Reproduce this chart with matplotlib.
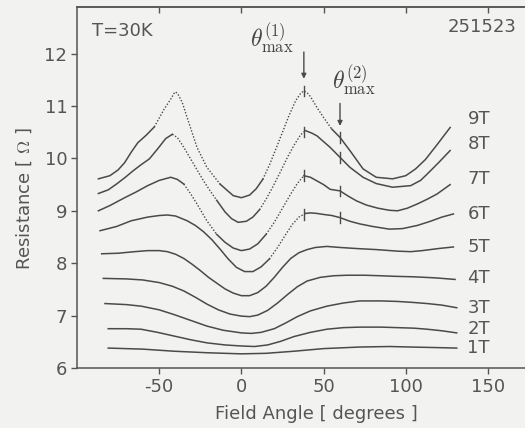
import numpy as np
import matplotlib
matplotlib.use("Agg")
import matplotlib.pyplot as plt

plt.rcParams['font.family'] = ['DejaVu Sans']
plt.rcParams['mathtext.fontset'] = 'cm'
plt.rcParams['axes.unicode_minus'] = False

# Angular magnetoresistance at T=30K, one curve per field
theta9 = [-87, -80, -75, -71, -67, -63, -58, -53, -47, -43, -41, -40, -38.5, -36, -33, -31, -27, -21, -13, -5, 0, 5, 9, 13, 17, 21, 25, 29, 33, 36, 38, 40, 42, 46, 50, 55, 60, 66, 74, 82, 92, 100, 106, 112, 119, 127]
R9 = [9.61, 9.67, 9.78, 9.92, 10.12, 10.30, 10.44, 10.60, 10.94, 11.13, 11.24, 11.27, 11.22, 11.07, 10.78, 10.59, 10.21, 9.83, 9.51, 9.29, 9.25, 9.30, 9.42, 9.60, 9.87, 10.18, 10.50, 10.82, 11.10, 11.24, 11.29, 11.25, 11.18, 10.97, 10.78, 10.56, 10.40, 10.15, 9.80, 9.64, 9.61, 9.67, 9.80, 9.98, 10.26, 10.59]

theta8 = [-87, -81, -76, -71, -66, -61, -56, -51, -46, -42, -39, -35, -32, -29, -26, -23, -19, -15, -10, -6, -2, 3, 7, 11, 15, 19, 24, 28, 32, 36, 39, 43, 46, 50, 54, 60, 66, 74, 82, 92, 103, 109, 113, 120, 127]
R8 = [9.33, 9.40, 9.51, 9.63, 9.76, 9.88, 9.99, 10.18, 10.38, 10.46, 10.40, 10.21, 10.05, 9.89, 9.73, 9.57, 9.38, 9.20, 8.98, 8.85, 8.78, 8.80, 8.88, 9.02, 9.22, 9.45, 9.76, 10.02, 10.25, 10.45, 10.53, 10.48, 10.43, 10.32, 10.21, 10.02, 9.83, 9.64, 9.52, 9.45, 9.48, 9.58, 9.70, 9.92, 10.15]

theta7 = [-87, -80, -71, -64, -57, -50, -43, -39, -35, -31, -27, -21, -15, -10, -5, 0, 5, 10, 15, 20, 25, 30, 34, 38, 42, 46, 50, 54, 60, 65, 70, 76, 83, 90, 95, 101, 107, 113, 119, 127]
R7 = [9.00, 9.10, 9.25, 9.36, 9.48, 9.58, 9.64, 9.60, 9.51, 9.33, 9.13, 8.81, 8.55, 8.40, 8.29, 8.24, 8.27, 8.37, 8.55, 8.78, 9.05, 9.32, 9.52, 9.67, 9.64, 9.57, 9.50, 9.41, 9.38, 9.28, 9.19, 9.11, 9.05, 9.01, 9.00, 9.05, 9.13, 9.22, 9.32, 9.50]

theta6 = [-86, -76, -67, -57, -50, -45, -40, -33, -28, -23, -18, -13, -8, -3, 2, 7, 12, 17, 22, 27, 31, 35, 39, 42, 46, 50, 55, 60, 66, 72, 80, 90, 98, 107, 115, 122, 129]
R6 = [8.62, 8.70, 8.81, 8.88, 8.91, 8.92, 8.90, 8.81, 8.72, 8.60, 8.45, 8.27, 8.08, 7.92, 7.84, 7.84, 7.93, 8.08, 8.30, 8.55, 8.74, 8.88, 8.95, 8.96, 8.95, 8.93, 8.91, 8.87, 8.80, 8.75, 8.70, 8.65, 8.66, 8.72, 8.80, 8.88, 8.94]

theta5 = [-85, -75, -65, -57, -50, -45, -40, -35, -30, -25, -20, -15, -10, -5, 0, 5, 10, 15, 20, 25, 30, 35, 40, 45, 52, 60, 70, 82, 95, 103, 110, 120, 129]
R5 = [8.18, 8.19, 8.22, 8.24, 8.24, 8.22, 8.17, 8.09, 7.98, 7.86, 7.73, 7.62, 7.51, 7.43, 7.38, 7.38, 7.44, 7.56, 7.73, 7.92, 8.09, 8.20, 8.26, 8.30, 8.32, 8.30, 8.28, 8.26, 8.23, 8.22, 8.24, 8.28, 8.31]

theta4 = [-84, -70, -60, -50, -42, -35, -28, -21, -14, -7, 0, 5, 10, 16, 22, 28, 34, 40, 48, 56, 64, 75, 85, 93, 105, 118, 130]
R4 = [7.71, 7.70, 7.68, 7.63, 7.56, 7.47, 7.35, 7.22, 7.11, 7.03, 6.99, 6.98, 7.01, 7.10, 7.24, 7.40, 7.55, 7.66, 7.73, 7.76, 7.77, 7.77, 7.76, 7.75, 7.74, 7.72, 7.69]

theta3 = [-83, -70, -61, -50, -41, -31, -21, -11, 0, 6, 12, 20, 27, 34, 42, 52, 62, 72, 85, 95, 105, 113, 122, 131]
R3 = [7.23, 7.21, 7.18, 7.11, 7.02, 6.91, 6.80, 6.72, 6.67, 6.66, 6.68, 6.75, 6.86, 6.98, 7.09, 7.18, 7.24, 7.28, 7.28, 7.27, 7.25, 7.23, 7.20, 7.15]

theta2 = [-81, -70, -61, -51, -41, -31, -21, -10, 0, 8, 16, 24, 32, 42, 52, 62, 72, 85, 95, 105, 113, 122, 131]
R2 = [6.75, 6.75, 6.74, 6.68, 6.61, 6.54, 6.48, 6.44, 6.42, 6.41, 6.44, 6.51, 6.60, 6.68, 6.74, 6.77, 6.78, 6.78, 6.77, 6.76, 6.74, 6.71, 6.67]

theta1 = [-81, -60, -41, -20, 0, 15, 32, 50, 72, 90, 103, 118, 131]
R1 = [6.38, 6.36, 6.32, 6.29, 6.27, 6.28, 6.32, 6.37, 6.40, 6.41, 6.40, 6.39, 6.38]

fields = ['9T', '8T', '7T', '6T', '5T', '4T', '3T', '2T', '1T']
label_R = [10.76, 10.28, 9.61, 8.94, 8.30, 7.72, 7.15, 6.74, 6.39]

# sparse (dotted) stretches where the resistance changes fast
dotted = {
    '9T': [(-55, -10), (12, 57)],
    '8T': [(-43, -15), (10, 39)],
    '7T': [(-36, -18), (15, 38)],
    '6T': [(15, 40)],
}

theta_max1 = 38
theta_max2 = 60

curves = [(theta9, R9), (theta8, R8), (theta7, R7), (theta6, R6), (theta5, R5),
          (theta4, R4), (theta3, R3), (theta2, R2), (theta1, R1)]

ink = '#4a4a4a'
txt = '#555555'
fs = 13
fig = plt.figure(figsize=(5.25, 4.28), dpi=100, facecolor='#f2f2f0')
ax = fig.add_axes([0.1467, 0.1402, 0.861, 0.8423])
ax.set_facecolor('#f2f2f0')

for name, (th, r) in zip(fields, curves):
    th = np.array(th, dtype=float)
    r = np.array(r, dtype=float)
    spans = dotted.get(name, [])
    mids = (th[:-1] + th[1:]) / 2
    isdot = np.array([any(a <= m <= b for a, b in spans) for m in mids])
    start = 0
    for i in range(1, len(mids) + 1):
        if i == len(mids) or isdot[i] != isdot[start]:
            seg = slice(start, i + 1)
            if isdot[start]:
                ax.plot(th[seg], r[seg], color=ink, lw=1.0, ls=(0, (1, 1.3)))
            else:
                ax.plot(th[seg], r[seg], color=ink, lw=1.1)
            start = i

# short vertical marks at the two maxima on the high-field curves
for name, (th, r) in zip(fields[:4], curves[:4]):
    for tm in (theta_max1, theta_max2):
        rv = np.interp(tm, th, r)
        ax.plot([tm, tm], [rv - 0.1, rv + 0.1], color=ink, lw=1.0)

ax.annotate('', xy=(theta_max1, 11.52), xytext=(theta_max1, 12.03),
            arrowprops=dict(arrowstyle='-|>', color=ink, lw=1.0,
                            mutation_scale=7, shrinkA=0, shrinkB=0))
ax.annotate('', xy=(theta_max2, 10.62), xytext=(theta_max2, 11.05),
            arrowprops=dict(arrowstyle='-|>', color=ink, lw=1.0,
                            mutation_scale=7, shrinkA=0, shrinkB=0))
ax.text(31.5, 12.30, r'$\theta^{(1)}_{\rm max}$', ha='right', va='center',
        fontsize=17, color='#444444')
ax.text(68.5, 11.50, r'$\theta^{(2)}_{\rm max}$', ha='center', va='center',
        fontsize=17, color='#444444')

for name, ry in zip(fields, label_R):
    ax.text(137.5, ry, name, ha='left', va='center', fontsize=fs, color=txt)

ax.text(0.033, 0.936, 'T=30K', transform=ax.transAxes, ha='left', va='center',
        fontsize=fs, color=txt)
ax.text(0.973, 0.947, '251523', transform=ax.transAxes, ha='right', va='center',
        fontsize=fs, color=txt)

ax.set_xlim(-100, 175)
ax.set_ylim(6, 12.88)
ax.set_xticks([-50, 0, 50, 100, 150])
ax.set_yticks([6, 7, 8, 9, 10, 11, 12])
ax.tick_params(direction='out', length=4, width=1.0, color='#555555',
               labelsize=fs, labelcolor=txt, pad=3)
top = ax.secondary_xaxis('top')
top.set_xticks([-50, 0, 50, 100, 150])
top.tick_params(direction='in', length=4, width=1.0, color='#555555', labeltop=False)
top.spines['top'].set_color('#555555')
top.spines['top'].set_linewidth(1.1)
for s in ['left', 'bottom', 'top']:
    ax.spines[s].set_color('#555555')
    ax.spines[s].set_linewidth(1.1)
ax.spines['right'].set_visible(False)

ax.set_xlabel('Field Angle [ degrees ]', fontsize=fs, color=txt)
ax.xaxis.set_label_coords(0.529, -0.103)
ax.set_ylabel(r'Resistance [ $\Omega$ ]', fontsize=fs, color=txt)
ax.yaxis.set_label_coords(-0.095, 0.47)

fig.savefig('out.png', dpi=100, facecolor=fig.get_facecolor())
